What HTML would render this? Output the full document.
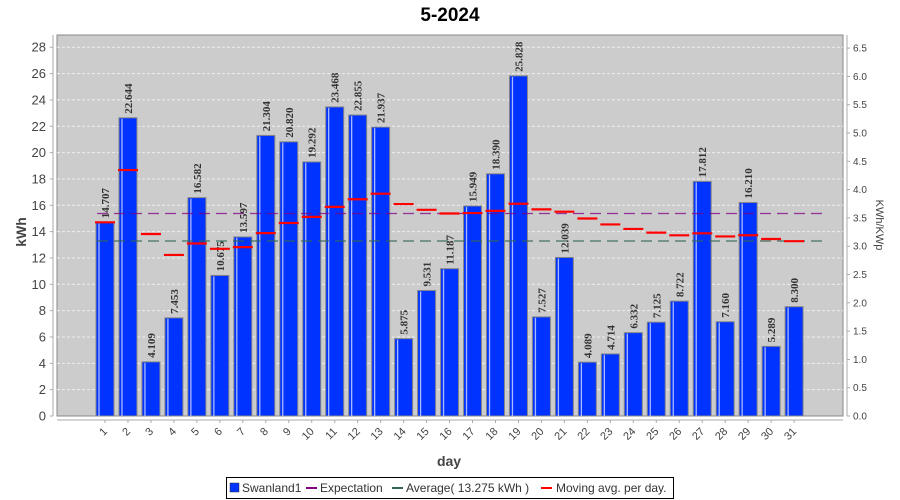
<!DOCTYPE html>
<html><head><meta charset="utf-8"><style>
html,body{margin:0;padding:0;background:#fff;width:900px;height:500px;overflow:hidden}
svg{display:block;font-family:"Liberation Sans","DejaVu Sans",sans-serif}
</style></head><body>
<svg id="s" width="900" height="500" xmlns="http://www.w3.org/2000/svg">
<text x="450" y="21" text-anchor="middle" font-size="19" font-weight="bold" fill="#000">5-2024</text>
<rect x="57" y="35" width="786" height="381" fill="#cccccc" stroke="#888" stroke-width="1"/>
<g id="grid"></g>
<line x1="53" y1="35" x2="53" y2="416" stroke="#aaa"/>
<line x1="57" y1="420" x2="843" y2="420" stroke="#aaa"/>
<line x1="847" y1="35" x2="847" y2="416" stroke="#aaa"/>
<g id="bars"></g>
<text transform="translate(26,232) rotate(-90)" text-anchor="middle" font-size="14" font-weight="bold" fill="#444">kWh</text>
<text transform="translate(876,225) rotate(90)" text-anchor="middle" font-size="11" fill="#444">KWh/KWp</text>
<text x="449" y="466" text-anchor="middle" font-size="14" font-weight="bold" fill="#444">day</text>
<rect x="226.5" y="477.5" width="447" height="21" fill="#fff" stroke="#000"/>
<rect x="230" y="483" width="9" height="9" fill="#0033ff" stroke="#333" stroke-width="0.5"/>
<text x="242" y="492" font-size="12" fill="#333">Swanland1</text>
<line x1="306" y1="488" x2="317" y2="488" stroke="#800080" stroke-width="2"/>
<text x="320" y="492" font-size="12" fill="#333">Expectation</text>
<line x1="392" y1="488" x2="403" y2="488" stroke="#336655" stroke-width="2"/>
<text x="406" y="492" font-size="12" fill="#333">Average( 13.275 kWh )</text>
<line x1="541" y1="488" x2="552" y2="488" stroke="#ff0000" stroke-width="2"/>
<text x="556" y="492" font-size="12" fill="#333">Moving avg. per day.</text>
</svg>
<script>
(function(){
var v=[14.707,22.644,4.109,7.453,16.582,10.675,13.597,21.304,20.820,19.292,23.468,22.855,21.937,5.875,9.531,11.187,15.949,18.390,25.828,7.527,12.039,4.089,4.714,6.332,7.125,8.722,17.812,7.160,16.210,5.289,8.300];
var NS="http://www.w3.org/2000/svg";
function el(p,t,a,tx){var e=document.createElementNS(NS,t);for(var k in a)e.setAttribute(k,a[k]);if(tx!=null)e.textContent=tx;p.appendChild(e);return e;}
var g=document.getElementById('grid'),b=document.getElementById('bars');
function Y(x){return 416-x*13.17;}
for(var i=0;i<=28;i+=2){var y=Y(i);
 if(i>0)el(g,'line',{x1:57,x2:843,y1:y,y2:y,stroke:'#eee','stroke-dasharray':'3,2','stroke-width':1});
 el(g,'line',{x1:50,x2:53,y1:y,y2:y,stroke:'#aaa'});
 el(g,'text',{x:46,y:y+4.5,'text-anchor':'end','font-size':13,fill:'#444'},String(i));}
for(var j=0;j<=13;j++){var r=j*0.5,y=416-r*56.6;
 el(g,'line',{x1:847,x2:850,y1:y,y2:y,stroke:'#aaa'});
 el(g,'text',{x:853,y:y+3.5,'font-size':10,fill:'#444'},r.toFixed(1));}
var sum=0;
for(var d=0;d<31;d++){var cx=105+d*22.97,h=v[d]*13.17,ty=416-h;
 el(b,'rect',{x:cx-9,y:ty,width:18,height:h,fill:'#0033ff',stroke:'#888','stroke-width':1});
 el(b,'line',{x1:cx-6,x2:cx-6,y1:ty+1,y2:416,stroke:'#aabbff','stroke-width':1.3});
 el(b,'text',{transform:'translate('+(cx+4)+','+(ty-4)+') rotate(-90)','font-size':11,'font-weight':'bold','font-family':'"Liberation Serif",serif',fill:'#333'},v[d].toFixed(3));
 el(b,'line',{x1:cx,x2:cx,y1:420,y2:423,stroke:'#aaa'});
 el(b,'text',{transform:'translate('+(cx+3)+',432) rotate(-45)','text-anchor':'end','font-size':11,fill:'#444'},String(d+1));
}
for(var x=97;x<812;x+=17)el(b,'line',{x1:x,x2:x+11,y1:213.5,y2:213.5,stroke:'#800080','stroke-width':1.3,opacity:0.75});
for(var x=97;x<812;x+=17)el(b,'line',{x1:x,x2:x+11,y1:241,y2:241,stroke:'#336655','stroke-width':1.3,opacity:0.85});
for(var d=0;d<31;d++){sum+=v[d];var cx=105+d*22.97,y=Y(sum/(d+1));
 el(b,'line',{x1:cx-10,x2:cx+10,y1:y,y2:y,stroke:'#ff0000','stroke-width':2.2});}
})();
</script>
</body></html>
